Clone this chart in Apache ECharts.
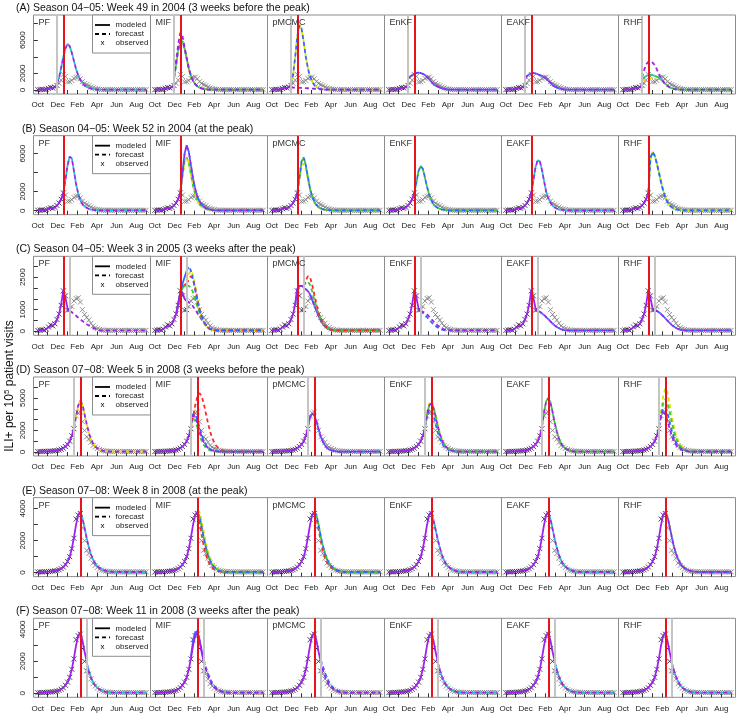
<!DOCTYPE html>
<html><head><meta charset="utf-8">
<script src="https://cdn.jsdelivr.net/npm/echarts@6/dist/echarts.min.js"></script>
<style>html,body{margin:0;padding:0;background:#fff}#c{width:740px;height:716px}</style>
</head><body><div id="c"></div>
<script>
// ---------------- DATA ----------------
const methods = ['PF','MIF','pMCMC','EnKF','EAKF','RHF'];
const monthLabels = ['Oct','Dec','Feb','Apr','Jun','Aug'];
const legendLabels = ['modeled','forecast','observed'];
const rowTitles = [
 '(A) Season 04\u221205: Week 49 in 2004 (3 weeks before the peak)',
 '(B) Season 04\u221205: Week 52 in 2004 (at the peak)',
 '(C) Season 04\u221205: Week 3 in 2005 (3 weeks after the peak)',
 '(D) Season 07\u221208: Week 5 in 2008 (3 weeks before the peak)',
 '(E) Season 07\u221208: Week 8 in 2008 (at the peak)',
 '(F) Season 07\u221208: Week 11 in 2008 (3 weeks after the peak)'];
const rowSeason = [0,0,0,1,1,1];
const forecastWeek = [9,12,15,17,20,23];   // week index (week 40 = 0)
const peakWeek = [12,12,12,20,20,20];
const yTicks = [[0,2000,4000,6000,8000],[0,2000,4000,6000],[0,500,1000,1500,2000,2500,3000],
                [0,1000,2000,3000,4000,5000,6000],[0,1000,2000,3000,4000],[0,1000,2000,3000,4000]];
const yLabels = [[0,2000,6000],[0,2000,6000],[0,1000,2500],[0,2000,5000],[0,2000,4000],[0,2000,4000]];
const yMin = [-482,-420,-185,-370,-250,-250];
const yMax = [9040,7900,3465,6945,4690,4690];

const obs0405 = [40,60,80,50,100,200,300,250,350,550,800,1200,1870,1640,980,1000,1150,1400,1520,1550,1350,1000,780,640,520,370,250,170,110,80,60,50,45,50,40,45,40,50,40,45,40,45,40,50,40,45,40,45,40,45,40,45];
const obs0708 = [40,50,45,60,55,70,80,90,110,140,180,250,350,500,700,1000,1500,2150,3350,3600,3700,2800,2000,1400,1200,900,600,450,320,220,160,120,90,70,60,55,50,55,50,50,45,50,45,50,45,50,45,50,45,50,45,50];
const fit0405 = [30,50,60,70,100,180,250,280,330,550,800,1250,1900,1550,1050,950];
const fit0708 = [30,40,45,50,60,70,80,95,110,140,180,250,350,500,700,1000,1500,2200,3000,3600,3800,3300,2600,2000];
const tail0405 = [45,40,45,40,40,45,40,40,45,40,40,45,40,40,45,40,40,45,40,40,45,40]; // weeks 30..51
const tail0708 = [45,40,45,40,40,45,40,40,45,40,40,45,40,40,45,40];                   // weeks 36..51

// Row A forecasts (weeks 9..29)
const fA_PF = [800,1500,2700,4000,5000,5550,5300,4500,3500,2500,1800,1200,800,550,380,260,180,120,80,60,50];
const fA_MIF_p = [1500,3500,5500,6900,6500,5200,3800,2600,1700,1100,700,450,300,200,130,90,60,50,45,40,40];
const fA_MIF_g = [1400,3000,4800,5800,5900,5000,3800,2600,1700,1100,700,450,300,200,130,90,60,50,45,40,40];
const fA_pMCMC = [700,1800,4000,6500,7800,7400,5800,4000,2600,1600,1000,600,350,200,120,80,50,45,40,40,40];
const fA_pMCMC_low = [300,290,280,270,260,250,240,230,210,190,170,150,130,110,90,70,60,50,45,40,40];
const fA_EnKF = [1300,1600,1800,1950,2050,2100,2050,1950,1800,1550,1300,1000,750,550,400,280,190,130,90,60,45];
const fA_EAKF = [1300,1700,1900,2000,2050,2000,1900,1800,1700,1550,1350,1100,850,600,420,290,200,130,90,60,45];
const fA_RHF_p = [1500,2400,3100,3400,3450,3300,3000,2500,1900,1400,1000,700,480,320,210,140,90,60,50,45,40];
const fA_RHF_g = [1300,1500,1700,1800,1850,1800,1700,1600,1500,1300,1000,750,520,350,230,150,100,70,50,45,40];
const fA_RHF_y = [1100,1200,1300,1350,1400,1450,1500,1550,1500,1300,1050,800,560,380,250,160,100,70,50,45,40];
// Row B forecasts (weeks 12..29)
const fB_PF = [1900,3200,4800,5700,5500,4200,2800,1800,1100,700,450,300,200,130,90,60,50,40];
const fB_MIF_p = [1900,4000,6000,6900,6200,4800,3400,2300,1500,1000,650,420,280,180,120,80,55,40];
const fB_MIF_g = [1900,3600,5200,5600,5000,3800,2600,1700,1100,700,450,300,200,130,90,60,45,40];
const fB_pMCMC = [1900,3500,5200,5600,4800,3500,2300,1500,950,600,380,240,150,100,70,50,45,40];
const fB_pMCMC_y = [1900,3200,4600,5000,4400,3300,2200,1400,900,560,350,220,140,90,60,45,40,40];
const fB_EnKF = [1900,3000,4200,4700,4400,3500,2500,1700,1100,700,450,300,200,130,90,60,45,40];
const fB_EAKF = [1900,3200,4600,5300,5200,4300,3100,2000,1300,850,550,350,230,150,100,70,50,40];
const fB_RHF = [1900,5500,6200,5800,5000,4000,3000,2100,1400,900,580,370,240,150,100,70,50,40];
// Row C forecasts (weeks 15..29)
const fC_PF = [920,880,800,720,630,550,480,400,330,270,210,160,110,70,50];
const fC_MIF_b = [2800,3000,2800,2400,1900,1400,1000,700,480,320,200,130,80,50,40];
const fC_MIF_r = [2200,2400,2550,2400,2000,1500,1050,700,450,280,170,100,60,45,40];
const fC_MIF_y = [2300,2650,2800,2600,2100,1550,1050,680,430,270,160,100,60,45,40];
const fC_MIF_g = [2100,2100,2000,1800,1500,1150,850,600,400,260,160,100,60,45,40];
const fC_MIF_p = [1400,1350,1250,1150,1000,850,700,550,400,280,190,120,80,50,40];
const fC_pMCMC_r = [2100,2350,2550,2500,2150,1700,1250,880,600,400,260,170,110,70,50];
const fC_pMCMC_g = [2100,2250,2300,2150,1850,1450,1100,800,560,380,250,160,100,60,45];
const fC_pMCMC_b = [2000,1950,1850,1700,1450,1200,950,700,500,340,220,140,90,60,45];
const fC_EnKF = [950,900,850,780,680,570,460,360,270,190,130,90,60,45,40];
const fC_EnKF_b = [950,850,750,650,540,430,330,250,180,120,80,55,45,40,40];
const fC_EAKF = [950,900,830,750,660,560,460,360,270,200,140,95,65,45,40];
const fC_RHF = [1000,950,880,800,700,600,490,390,300,220,160,110,75,50,40];
// Row C modeled variants
const mC_MIF_b = [800,1300,1800,2200,2500,2800];   // weeks 10..15
const mC_MIF_g = [750,1250,1750,2000,2100,2100];
const mC_MIF_r = [750,1250,1800,2050,2150,2200];
const mC_MIF_p = [750,1250,1850,1800,1500,1400];
const mC_pMCMC = [1250,1950,2100,2100,2050];        // weeks 11..15
// Row D forecasts (weeks 17..35)
const fD_PF = [2200,3300,4300,4750,4400,3500,2600,1800,1200,800,520,340,220,150,100,70,55,45,40];
const fD_MIF_r = [2200,3200,4300,5100,5450,5200,4500,3600,2700,1900,1300,850,550,350,220,140,90,60,45];
const fD_MIF_b = [2600,3500,3500,3000,2300,1600,1050,680,430,270,170,110,70,50,45,40,40,40,40];
const fD_MIF_g = [2500,3100,2900,2300,1600,1050,650,400,250,150,90,60,45,40,40,40,40,40,40];
const fD_MIF_p = [2600,3400,3300,2700,2000,1400,900,580,370,230,150,100,60,45,40,40,40,40,40];
const fD_pMCMC = [2300,3200,3550,3400,2800,2100,1450,950,600,380,240,150,100,65,45,40,40,40,40];
const fD_EnKF = [2300,3500,4300,4500,4100,3300,2400,1650,1100,700,450,290,180,120,80,55,45,40,40];
const fD_EnKF_y = [2300,3600,4500,4700,4300,3500,2600,1800,1200,780,500,320,200,130,85,60,45,40,40];
const fD_EnKF_b = [2300,3300,3900,3900,3400,2600,1850,1250,800,500,320,200,130,85,60,45,40,40,40];
const fD_EAKF = [2300,3700,4700,5000,4600,3700,2700,1900,1250,800,520,330,210,140,90,60,45,40,40];
const fD_RHF_y = [2300,3800,5200,5900,5500,4500,3400,2400,1600,1050,680,440,280,180,120,80,55,45,40];
const fD_RHF_g = [2300,3500,4500,4900,4500,3700,2800,1900,1300,850,550,350,220,140,90,60,45,40,40];
const fD_RHF_b = [2300,3300,4000,4100,3600,2800,2000,1350,880,560,360,230,150,100,65,50,40,40,40];
const fD_RHF_p = [2400,3400,3700,3500,2900,2200,1500,1000,650,420,270,170,110,70,50,40,40,40,40];
// Row E forecasts (weeks 20..35)
const fE_PF = [3700,3400,2800,2150,1600,1150,820,580,420,300,220,160,120,90,70,55];
const fE_MIF_y = [3900,3800,3300,2600,1900,1350,950,650,450,300,200,140,100,70,50,45];
const fE_MIF_r = [3700,3200,2400,1700,1150,750,480,310,200,130,85,60,45,40,40,40];
const fE_MIF_b = [3800,3500,2900,2200,1600,1100,750,500,340,230,150,100,70,50,45,40];
const fE_pMCMC = [3800,3600,3000,2300,1700,1200,850,600,420,290,200,140,100,70,50,45];
const fE_pMCMC_r = [3700,3400,2700,2000,1400,950,650,450,300,200,140,95,65,50,40,40];
const fE_EnKF = [3700,3300,2700,2100,1550,1100,780,550,390,280,200,140,100,70,50,45];
const fE_EAKF = [3700,3350,2750,2100,1550,1100,780,550,390,280,200,140,100,70,50,45];
const fE_RHF = [3750,3500,2900,2250,1650,1200,850,600,420,300,210,150,105,75,55,45];
const fE_RHF_y = [3800,3600,3000,2300,1700,1250,880,620,440,310,220,155,110,80,55,45];
// Row F forecasts (weeks 23..35)
const fF_PF = [1900,1400,1000,700,500,350,250,180,130,95,70,55,45];
const fF_MIF = [2000,1500,1100,780,550,380,270,190,130,90,65,50,45];
const fF_MIF_b = [2100,1650,1250,900,650,460,330,230,160,110,75,55,45];
const fF_pMCMC = [2000,1450,1050,750,530,370,260,180,130,90,65,50,45];
const fF_pMCMC_b = [2100,1700,1300,950,680,480,340,240,170,120,85,60,45];
const fF_EnKF = [1950,1450,1050,750,530,370,260,180,130,90,65,50,45];
const fF_EAKF = [1950,1450,1050,740,520,360,250,175,125,90,65,50,45];
const fF_RHF = [1950,1450,1050,750,530,370,260,180,130,90,65,50,45];
// Row F modeled variant (weeks 17..23)
const mF_MIF_b = [2300,3300,3800,3900,3400,2700,2100];
const mF_MIF_p = [2200,3000,3600,3800,3300,2600,2000];

// ---------------- STYLE ----------------
const COL = {red:'#FF2A2A', yellow:'#E2E000', green:'#33CC33', cyan:'#22C4C4', blue:'#3366FF', purple:'#A020F0'};
const FONT = 'Liberation Sans, Arial, Helvetica, sans-serif';

const forecasts = [
 [ [['cyan',fA_PF,4],['purple',fA_PF,0]],
   [['yellow',fA_MIF_g,2],['green',fA_MIF_g,5],['blue',fA_MIF_g,0],['purple',fA_MIF_p,0]],
   [['yellow',fA_pMCMC,4],['blue',fA_pMCMC,0],['purple',fA_pMCMC_low,0]],
   [['blue',fA_EnKF,4],['purple',fA_EnKF,0]],
   [['blue',fA_EAKF,4],['purple',fA_EAKF,0]],
   [['yellow',fA_RHF_y,0],['green',fA_RHF_g,0],['cyan',fA_RHF_g,4],['purple',fA_RHF_p,0]] ],
 [ [['cyan',fB_PF,4],['purple',fB_PF,0]],
   [['green',fB_MIF_g,0],['yellow',fB_MIF_g,4],['blue',fB_MIF_p,4],['purple',fB_MIF_p,0]],
   [['yellow',fB_pMCMC_y,0],['green',fB_pMCMC,4],['blue',fB_pMCMC,0]],
   [['green',fB_EnKF,4],['blue',fB_EnKF,0]],
   [['cyan',fB_EAKF,4],['purple',fB_EAKF,0]],
   [['yellow',fB_RHF,3],['cyan',fB_RHF,6],['blue',fB_RHF,0]] ],
 [ [['purple',fC_PF,0]],
   [['purple',fC_MIF_p,0],['green',fC_MIF_g,0],['yellow',fC_MIF_y,0],['red',fC_MIF_r,0],['blue',fC_MIF_b,0]],
   [['blue',fC_pMCMC_b,0],['purple',fC_pMCMC_b,4],['green',fC_pMCMC_g,0],['red',fC_pMCMC_r,0]],
   [['blue',fC_EnKF_b,0],['purple',fC_EnKF,0]],
   [['blue',fC_EAKF,4],['purple',fC_EAKF,0]],
   [['blue',fC_RHF,4],['purple',fC_RHF,0]] ],
 [ [['yellow',fD_PF,4],['purple',fD_PF,0]],
   [['red',fD_MIF_r,0],['green',fD_MIF_g,0],['blue',fD_MIF_b,0],['purple',fD_MIF_p,0]],
   [['blue',fD_pMCMC,4],['purple',fD_pMCMC,0]],
   [['yellow',fD_EnKF_y,0],['blue',fD_EnKF_b,0],['green',fD_EnKF,4],['purple',fD_EnKF,0]],
   [['green',fD_EAKF,4],['purple',fD_EAKF,0]],
   [['yellow',fD_RHF_y,0],['green',fD_RHF_g,0],['blue',fD_RHF_b,0],['purple',fD_RHF_p,0]] ],
 [ [['cyan',fE_PF,4],['purple',fE_PF,0]],
   [['yellow',fE_MIF_y,0],['red',fE_MIF_r,0],['green',fE_MIF_b,4],['blue',fE_MIF_b,0]],
   [['red',fE_pMCMC_r,0],['green',fE_pMCMC,4],['blue',fE_pMCMC,0]],
   [['cyan',fE_EnKF,4],['purple',fE_EnKF,0]],
   [['cyan',fE_EAKF,4],['purple',fE_EAKF,0]],
   [['yellow',fE_RHF_y,0],['blue',fE_RHF,4],['purple',fE_RHF,0]] ],
 [ [['cyan',fF_PF,4],['purple',fF_PF,0]],
   [['blue',fF_MIF_b,0],['purple',fF_MIF,0]],
   [['blue',fF_pMCMC_b,0],['purple',fF_pMCMC,0]],
   [['cyan',fF_EnKF,4],['purple',fF_EnKF,0]],
   [['cyan',fF_EAKF,4],['purple',fF_EAKF,0]],
   [['cyan',fF_RHF,4],['purple',fF_RHF,0]] ]
];
const modeledVariants = {
 '2-1': {start:10, list:[['red',mC_MIF_r],['green',mC_MIF_g],['blue',mC_MIF_b],['purple',mC_MIF_p]]},
 '2-2': {start:11, list:[['blue',mC_pMCMC],['purple',mC_pMCMC]]},
 '5-1': {start:17, list:[['blue',mF_MIF_b],['purple',mF_MIF_p]]}
};

// ---------------- LAYOUT ----------------
const PL = 33.5, PW = 117, PT0 = 15, RH = 120.66, PH = 79;
const monthStep = 51/11;
const monthTickVals = Array.from({length:12}, (_, k) => k*monthStep);
const monthLabelVals = Array.from({length:6}, (_, k) => 2*k*monthStep);
const titleLeft = [16,22,16,16,22,16];
const X_PATH = 'path://M-3,-3M0,0L10,10M10,0L0,10M13,13';

const grids=[], xAxes=[], yAxes=[], series=[], titles=[], graphics=[];
function pts(start, arr){ return arr.map((v,i)=>[start+i, v]); }

function legendBox(top){
  const x0 = 92.5, y0 = top;
  const els = [
    {type:'rect', shape:{x:x0, y:y0, width:58, height:38}, style:{fill:'#fff', stroke:'#8c8c8c', lineWidth:1}},
    {type:'line', shape:{x1:x0+2.5, y1:y0+10, x2:x0+17.5, y2:y0+10}, style:{stroke:'#000', lineWidth:1.8}},
    {type:'line', shape:{x1:x0+2.5, y1:y0+19, x2:x0+17.5, y2:y0+19}, style:{stroke:'#000', lineWidth:1.8, lineDash:[4,3]}},
    {type:'text', x:x0+10, y:y0+28, style:{text:'x', fontSize:8, fill:'#000', fontFamily:FONT, align:'center', verticalAlign:'middle'}}
  ];
  legendLabels.forEach((t,i)=> els.push({type:'text', x:x0+23, y:y0+10+9*i,
    style:{text:t, fontSize:8, fill:'#222', fontFamily:FONT, align:'left', verticalAlign:'middle'}}));
  return {type:'group', z:100, children: els.map(e => Object.assign(e, {z:100, silent:true}))};
}

for (let r=0; r<6; r++){
  const top = PT0 + r*RH;
  const s = rowSeason[r];
  const obs = s ? obs0708 : obs0405;
  const fit = s ? fit0708 : fit0405;
  const tail = s ? tail0708 : tail0405;
  const tailStart = s ? 36 : 30;
  const fw = forecastWeek[r];
  titles.push({text: rowTitles[r], left: titleLeft[r], top: top-12.5, padding:0,
    textStyle:{fontSize:10.5, fontWeight:'normal', color:'#111', fontFamily:FONT}});
  graphics.push(legendBox(top));
  for (let c=0; c<6; c++){
    const gi = r*6 + c;
    const left = PL + c*PW;
    grids.push({left:left, top:top, width:PW, height:PH, show:true, borderColor:'#8c8c8c', borderWidth:1, backgroundColor:'transparent'});
    xAxes.push({type:'value', gridIndex:gi, min:-2.04, max:53.04, axisLine:{show:false}, splitLine:{show:false},
      axisTick:{show:true, customValues:monthTickVals, length:4, lineStyle:{color:'#333', width:1}},
      axisLabel:{show:true, customValues:monthLabelVals, fontSize:8, color:'#222', margin:7, fontFamily:FONT,
        formatter: v => monthLabels[Math.round(v/monthStep/2)]}});
    if (c===0){
      yAxes.push({type:'value', gridIndex:gi, min:yMin[r], max:yMax[r], axisLine:{show:false}, splitLine:{show:false},
        axisTick:{show:true, customValues:yTicks[r], length:4, lineStyle:{color:'#333', width:1}},
        axisLabel:{show:true, customValues:yLabels[r], rotate:90, fontSize:8, color:'#222', margin:7, fontFamily:FONT,
          formatter: v => String(v)}});
    } else {
      yAxes.push({type:'value', gridIndex:gi, min:yMin[r], max:yMax[r], show:false, splitLine:{show:false}});
    }
    titles.push({text: methods[c], left:left+5, top:top+3, padding:0,
      textStyle:{fontSize:9, fontWeight:'normal', color:'#333', fontFamily:FONT}});

    // vertical reference lines: forecast time (grey) and observed peak (red)
    series.push({type:'line', xAxisIndex:gi, yAxisIndex:gi, data:[[fw,0]], symbol:'none', lineStyle:{width:0, opacity:0}, silent:true,
      markLine:{silent:true, symbol:'none', label:{show:false}, animation:false,
        data:[{xAxis:fw, lineStyle:{color:'#C4C4C4', width:2, type:'solid'}},
              {xAxis:peakWeek[r], lineStyle:{color:'#E8141C', width:2, type:'solid'}}]}});

    // modeled (solid)
    const mv = modeledVariants[r+'-'+c];
    const fitEnd = mv ? mv.start : fw;
    series.push({name:'modeled', type:'line', xAxisIndex:gi, yAxisIndex:gi, data:pts(0, fit.slice(0, fitEnd+1)), symbol:'none',
      lineStyle:{color:COL.purple, width:1.8}, silent:true});
    if (mv){
      mv.list.forEach(([col, arr]) => series.push({name:'modeled', type:'line', xAxisIndex:gi, yAxisIndex:gi, data:pts(mv.start, arr),
        symbol:'none', lineStyle:{color:COL[col], width:1.8}, silent:true}));
    }
    // forecasts (dashed)
    forecasts[r][c].forEach(([col, arr, off]) => {
      const endIdx = fw + arr.length;
      const d = pts(fw, arr).concat(pts(endIdx, tail.slice(endIdx - tailStart)));
      series.push({name:'forecast', type:'line', xAxisIndex:gi, yAxisIndex:gi, data:d, symbol:'none',
        lineStyle:{color:COL[col], width:1.8, type:[4,3], dashOffset:off}, silent:true});
    });
    // observed
    const allObs = pts(0, obs);
    series.push({name:'observed', type:'scatter', xAxisIndex:gi, yAxisIndex:gi, data:allObs.filter(p=>p[0]<=fw), symbol:X_PATH, symbolSize:8,
      itemStyle:{color:'transparent', borderColor:'#1c1c30', borderWidth:1}, silent:true});
    series.push({name:'observed', type:'scatter', xAxisIndex:gi, yAxisIndex:gi, data:allObs.filter(p=>p[0]>fw), symbol:X_PATH, symbolSize:8,
      itemStyle:{color:'transparent', borderColor:'#7a7a7a', borderWidth:1}, silent:true});
  }
}

graphics.push({type:'text', x:10, y:386, rotation:Math.PI/2, z:100, silent:true,
  style:{text:'ILI+ per 10{s|5} patient visits', fontSize:12, fill:'#111', fontFamily:FONT, align:'center', verticalAlign:'middle',
    rich:{s:{fontSize:8, fill:'#111', fontFamily:FONT, padding:[0,0,6,0]}}}});

const option = {
  animation:false,
  backgroundColor:'#fff',
  textStyle:{fontFamily:FONT},
  title: titles,
  grid: grids,
  xAxis: xAxes,
  yAxis: yAxes,
  series: series,
  graphic: graphics
};
const chart = echarts.init(document.getElementById('c'));
chart.setOption(option);
</script></body></html>
